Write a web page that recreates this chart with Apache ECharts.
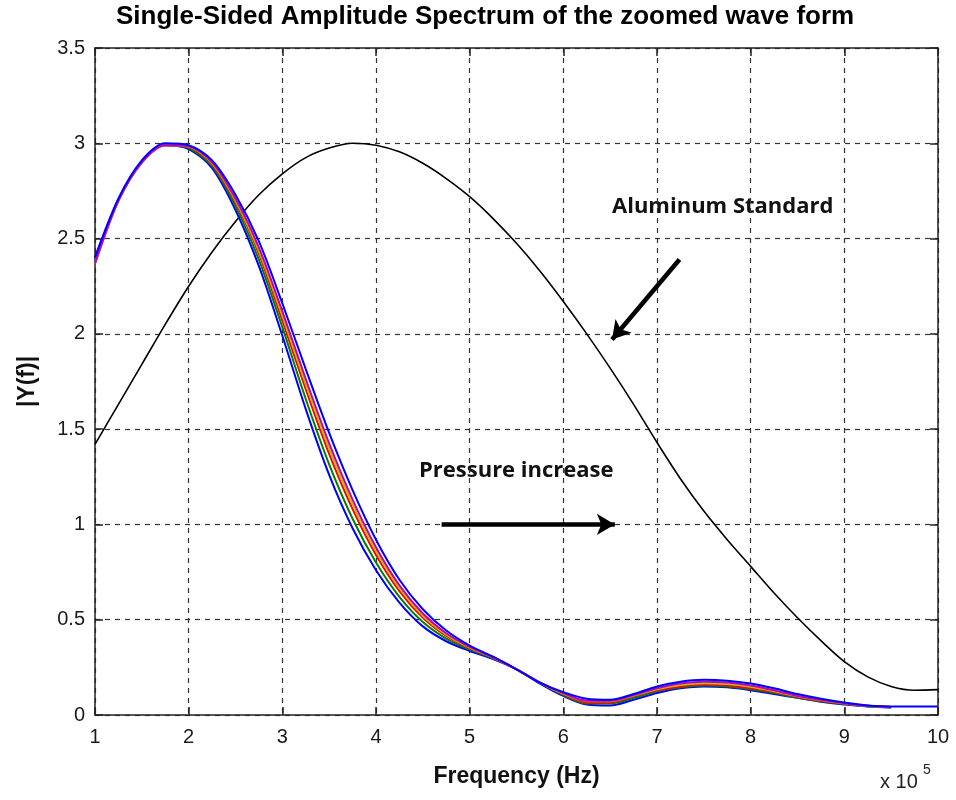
<!DOCTYPE html>
<html>
<head>
    <meta charset="utf-8">
    <title>Single-Sided Amplitude Spectrum</title>
    <script src="https://cdn.jsdelivr.net/npm/echarts@6/dist/echarts.min.js"></script>
    <style>
        html, body { margin: 0; padding: 0; background: #fff; }
        #chartmain { width: 956px; height: 800px; }
    </style>
</head>
<body>
<div id="chartmain"></div>
<script type="text/javascript">
    // frequency grid (x 10^5 Hz)
    var freq = [1, 1.25, 1.5, 1.75, 2, 2.25, 2.5, 2.75, 3, 3.25, 3.5, 3.75, 4, 4.25, 4.5, 4.75, 5,
        5.25, 5.5, 5.75, 6, 6.25, 6.5, 6.75, 7, 7.25, 7.5, 7.75, 8, 8.25, 8.5, 8.75, 9, 9.25, 9.5, 9.75, 10];

    // aluminum standard (black)
    var aluminum = [1.42, 1.63, 1.84, 2.05, 2.25, 2.43, 2.59, 2.73, 2.84, 2.925, 2.975, 3.0, 2.99, 2.955, 2.895,
        2.815, 2.72, 2.605, 2.475, 2.33, 2.17, 2.00, 1.82, 1.63, 1.43, 1.24, 1.07, 0.92, 0.78, 0.64, 0.51,
        0.39, 0.28, 0.20, 0.15, 0.13, 0.133];

    // pressure curves
    var blueL = [2.40, 2.70, 2.90, 2.99, 2.97, 2.87, 2.65, 2.355, 1.99, 1.605, 1.26, 0.98, 0.76, 0.59, 0.465,
        0.387, 0.336, 0.294, 0.24, 0.165, 0.10, 0.055, 0.05, 0.08, 0.115, 0.14, 0.15, 0.145, 0.13, 0.11,
        0.09, 0.07, 0.055, 0.045, 0.04];
    var green = [2.38, 2.70, 2.90, 2.99, 2.975, 2.88, 2.67, 2.388, 2.035, 1.658, 1.315, 1.03, 0.80, 0.62, 0.488,
        0.401, 0.343, 0.297, 0.24, 0.17, 0.105, 0.06, 0.06, 0.09, 0.125, 0.145, 0.155, 0.15, 0.135, 0.115,
        0.09, 0.072, 0.058, 0.046, 0.04];
    var red = [2.37, 2.70, 2.90, 2.99, 2.98, 2.89, 2.69, 2.42, 2.07, 1.71, 1.37, 1.08, 0.84, 0.65, 0.51,
        0.415, 0.35, 0.30, 0.24, 0.17, 0.11, 0.065, 0.065, 0.10, 0.13, 0.15, 0.16, 0.155, 0.14, 0.12,
        0.095, 0.075, 0.06, 0.048, 0.042];
    var yellow = [2.37, 2.70, 2.90, 2.99, 2.983, 2.895, 2.70, 2.436, 2.095, 1.736, 1.398, 1.105, 0.86, 0.665, 0.521,
        0.422, 0.354, 0.302, 0.24, 0.17, 0.112, 0.072, 0.072, 0.102, 0.135, 0.157, 0.167, 0.162, 0.148, 0.125,
        0.098, 0.078, 0.061, 0.047, 0.042];
    var magenta = [2.37, 2.70, 2.90, 2.99, 2.985, 2.90, 2.71, 2.453, 2.118, 1.763, 1.425, 1.13, 0.88, 0.68, 0.533,
        0.429, 0.357, 0.303, 0.24, 0.17, 0.115, 0.075, 0.075, 0.105, 0.14, 0.165, 0.175, 0.17, 0.155, 0.13,
        0.10, 0.08, 0.062, 0.048, 0.042];
    var blueR = [2.40, 2.71, 2.91, 3.0, 2.99, 2.91, 2.73, 2.485, 2.16, 1.815, 1.48, 1.18, 0.92, 0.71, 0.555,
        0.443, 0.364, 0.306, 0.24, 0.17, 0.12, 0.085, 0.08, 0.11, 0.15, 0.175, 0.185, 0.18, 0.165, 0.14,
        0.11, 0.085, 0.065, 0.05, 0.044, 0.044, 0.044];

    var bandSeries = [
        {vals: blueL, color: '#0000ff'},
        {vals: green, color: '#008000'},
        {vals: red, color: '#ff0000'},
        {vals: yellow, color: '#bfbf00'},
        {vals: magenta, color: '#bf00bf'},
        {vals: blueR, color: '#0000ff'}
    ];

    function pairs(vals) {
        var out = [];
        for (var i = 0; i < vals.length; i++) {
            out.push([freq[i], vals[i]]);
        }
        return out;
    }

    var gridLine = {show: true, lineStyle: {color: '#333', type: [5, 5], width: 1.2}};
    var axisLine = {show: true, onZero: false, lineStyle: {color: '#222', width: 1.5}};
    var tickStyle = {show: true, inside: true, length: 8, lineStyle: {color: '#222', width: 1.5}};
    var tickFont = {color: '#1a1a1a', fontSize: 20, fontFamily: 'Liberation Sans, Arial'};

    var series = [{
        name: 'Aluminum Standard',
        type: 'line',
        data: pairs(aluminum),
        smooth: 0.3,
        showSymbol: false,
        lineStyle: {color: '#000', width: 1.6},
        z: 2,
        markLine: {
            silent: true,
            symbol: ['none', 'arrow'],
            symbolSize: [16, 18],
            label: {show: false},
            lineStyle: {color: '#000', width: 4.5, type: 'solid'},
            data: [
                [{coord: [7.24, 2.39]}, {coord: [6.52, 1.97]}],
                [{coord: [4.7, 1.0]}, {coord: [6.55, 1.0]}]
            ]
        }
    }];
    for (var k = 0; k < bandSeries.length; k++) {
        series.push({
            type: 'line',
            data: pairs(bandSeries[k].vals),
            smooth: 0.3,
            showSymbol: false,
            lineStyle: {color: bandSeries[k].color, width: 2},
            z: 3
        });
    }

    var option = {
        animation: false,
        grid: {left: 95, right: 18, top: 48, bottom: 85, show: false},
        xAxis: [{
            type: 'value', min: 1, max: 10, interval: 1,
            name: 'Frequency (Hz)', nameLocation: 'middle', nameGap: 50,
            nameTextStyle: {fontSize: 23, fontWeight: 'bold', color: '#111', fontFamily: 'Liberation Sans, Arial'},
            axisLine: axisLine,
            axisTick: tickStyle,
            axisLabel: Object.assign({margin: 12}, tickFont),
            splitLine: gridLine
        }, {
            type: 'value', min: 1, max: 10, interval: 1, position: 'top',
            axisLine: axisLine,
            axisTick: tickStyle,
            axisLabel: {show: false},
            splitLine: {show: false}
        }],
        yAxis: [{
            type: 'value', min: 0, max: 3.5, interval: 0.5,
            name: '|Y(f)|', nameLocation: 'middle', nameGap: 56,
            nameTextStyle: {fontSize: 23, fontWeight: 'bold', color: '#111', fontFamily: 'Liberation Sans, Arial'},
            axisLine: axisLine,
            axisTick: tickStyle,
            axisLabel: Object.assign({margin: 10}, tickFont),
            splitLine: gridLine
        }, {
            type: 'value', min: 0, max: 3.5, interval: 0.5, position: 'right',
            axisLine: axisLine,
            axisTick: tickStyle,
            axisLabel: {show: false},
            splitLine: {show: false}
        }],
        graphic: [
            {
                type: 'text', left: 116, top: 4,
                style: {text: 'Single-Sided Amplitude Spectrum of the zoomed wave form', fill: '#000',
                    font: 'bold 26px "Liberation Sans", Arial'}
            },
            {
                type: 'text', left: 612, top: 196,
                style: {text: 'Aluminum Standard', fill: '#111', font: 'bold 22px "Open Sans", Lato'}
            },
            {
                type: 'text', left: 419, top: 460,
                style: {text: 'Pressure increase', fill: '#111', font: 'bold 22px "Open Sans", Lato'}
            },
            {
                type: 'text', left: 880, top: 772,
                style: {text: 'x 10', fill: '#222', font: '20px "Liberation Sans", Arial'}
            },
            {
                type: 'text', left: 923, top: 763,
                style: {text: '5', fill: '#222', font: '14px "Liberation Sans", Arial'}
            }
        ],
        series: series
    };

    var myChart = echarts.init(document.getElementById('chartmain'));
    myChart.setOption(option);
</script>
</body>
</html>
